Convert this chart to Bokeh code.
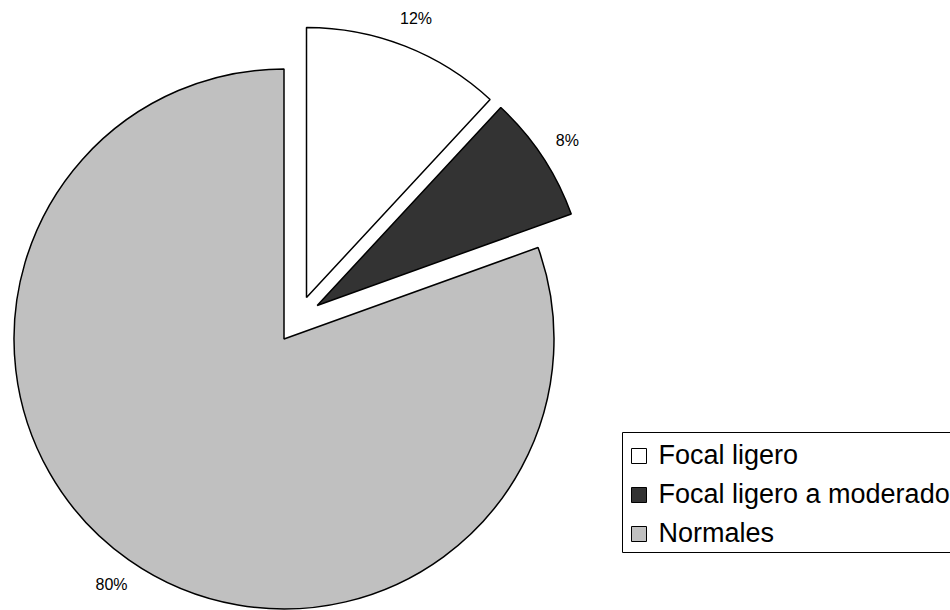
import math
from bokeh.plotting import figure
from bokeh.models import Range1d, ColumnDataSource
from bokeh.core.properties import value
from bokeh.embed import file_html
from bokeh.resources import INLINE

# ---------------- data ----------------
categories = ["Focal ligero", "Focal ligero a moderado", "Normales"]
values = [11.9, 7.6, 80.5]          # percent
colors = ["#FFFFFF", "#333333", "#C0C0C0"]

# ---------------- layout / style ----------------
W, H = 950, 610
CX, CY = 283.5, H - 338.5           # pie centre
R = 270                             # pie radius
EXPLODE = [(22.5, 41.5), (33.2, 33.5), (0.0, 0.0)]   # explode offsets (dx, dy up)
LABEL_DIST = 300
FONT = value("Liberation Sans")

p = figure(width=W, height=H, x_range=Range1d(0, W), y_range=Range1d(0, H),
           output_backend="svg", toolbar_location=None, min_border=0,
           x_axis_location=None, y_axis_location=None)
p.grid.visible = False
p.outline_line_color = None
p.background_fill_color = "white"
p.border_fill_color = "white"

total = sum(values)
cum = 0.0
xs, ys, starts, ends, lx, ly, labels = [], [], [], [], [], [], []
for v, (dx, dy) in zip(values, EXPLODE):
    a0 = math.radians(90 - cum / total * 360)
    cum += v
    a1 = math.radians(90 - cum / total * 360)
    x0, y0 = CX + dx, CY + dy
    xs.append(x0); ys.append(y0)
    starts.append(a1); ends.append(a0)
    bis = (a0 + a1) / 2
    lx.append(x0 + LABEL_DIST * math.cos(bis))
    ly.append(y0 + LABEL_DIST * math.sin(bis))
    labels.append(f"{round(v)}%")

src = ColumnDataSource(dict(x=xs, y=ys, start=starts, end=ends, color=colors,
                            lx=lx, ly=ly, label=labels))
p.wedge(x="x", y="y", radius=R, start_angle="start", end_angle="end",
        direction="anticlock", fill_color="color", line_color="black",
        line_width=1.5, source=src)
p.text(x="lx", y="ly", text="label", source=src, text_font=FONT,
       text_font_size="16px", text_align="center", text_baseline="middle",
       text_color="#000000")

# ---------------- legend (drawn manually) ----------------
LEG_LEFT, LEG_TOP, LEG_BOTTOM = 622, 432, 552
p.quad(left=[LEG_LEFT], right=[W + 20], top=[H - LEG_TOP], bottom=[H - LEG_BOTTOM],
       fill_color="white", line_color="black", line_width=1)
row_y = [H - (455.5 + 39 * i) for i in range(len(categories))]
leg = ColumnDataSource(dict(x=[638.5] * len(categories), y=row_y, color=colors,
                            tx=[658] * len(categories), ty=[y + 1.5 for y in row_y],
                            name=categories))
p.rect(x="x", y="y", width=15, height=15, fill_color="color", line_color="black",
       line_width=1, source=leg)
p.text(x="tx", y="ty", text="name", source=leg, text_font=FONT,
       text_font_size="27px", text_align="left", text_baseline="middle",
       text_color="#000000")

open("out.html", "w").write(file_html(p, INLINE))
